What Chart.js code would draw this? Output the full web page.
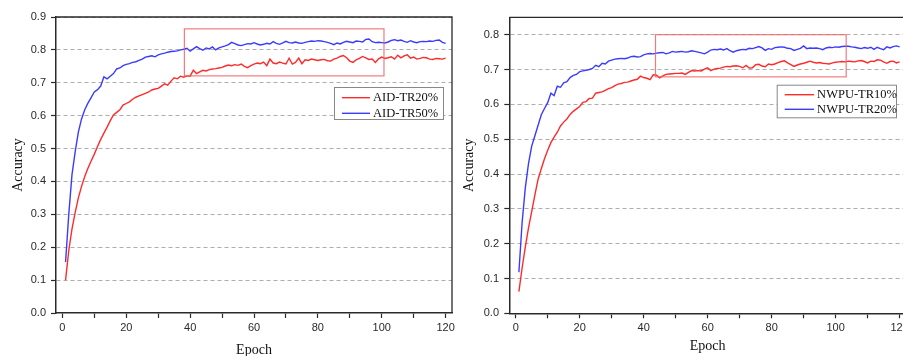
<!DOCTYPE html>
<html>
<head>
<meta charset="utf-8">
<script src="https://cdn.jsdelivr.net/npm/chart.js@4"></script>
<style>
  html, body { margin: 0; padding: 0; background: #fff; }
  body { width: 903px; height: 356px; overflow: hidden; position: relative; }
  canvas { position: absolute; top: 0; }
  #aid { left: 0; }
  #nwpu { left: 455px; }
</style>
</head>
<body>
<canvas id="aid" width="460" height="362"></canvas>
<canvas id="nwpu" width="460" height="356"></canvas>
<script>
// epochs 1..120
const epochs = Array.from({ length: 120 }, (_, i) => i + 1);
const xTicks = [0, 10, 20, 30, 40, 50, 60, 70, 80, 90, 100, 110, 120];
const aidYTicks = [0, 0.1, 0.2, 0.3, 0.4, 0.5, 0.6, 0.7, 0.8, 0.9];
const nwpuYTicks = [0, 0.1, 0.2, 0.3, 0.4, 0.5, 0.6, 0.7, 0.8];

const aidTR20 = [
  0.100, 0.190, 0.255, 0.305, 0.350, 0.385, 0.415, 0.440, 0.462, 0.483,
  0.506, 0.528, 0.547, 0.565, 0.585, 0.602, 0.610, 0.618, 0.632, 0.637,
  0.642, 0.650, 0.656, 0.660, 0.664, 0.668, 0.672, 0.678, 0.681, 0.683,
  0.690, 0.697, 0.693, 0.705, 0.715, 0.712, 0.720, 0.717, 0.721, 0.720,
  0.738, 0.728, 0.733, 0.738, 0.736, 0.740, 0.742, 0.743, 0.745, 0.747,
  0.751, 0.754, 0.752, 0.755, 0.753, 0.757, 0.750, 0.746, 0.752, 0.757,
  0.760, 0.758, 0.763, 0.752, 0.772, 0.760, 0.758, 0.763, 0.760, 0.757,
  0.775, 0.757, 0.762, 0.775, 0.758, 0.770, 0.768, 0.772, 0.770, 0.768,
  0.770, 0.771, 0.767, 0.766, 0.772, 0.775, 0.780, 0.783, 0.776, 0.766,
  0.762, 0.770, 0.774, 0.780, 0.776, 0.771, 0.772, 0.762, 0.773, 0.778,
  0.774, 0.776, 0.779, 0.772, 0.784, 0.776, 0.782, 0.785, 0.775, 0.778,
  0.772, 0.774, 0.777, 0.776, 0.772, 0.771, 0.774, 0.773, 0.772, 0.775
];
const aidTR50 = [
  0.155, 0.300, 0.420, 0.490, 0.550, 0.590, 0.618, 0.638, 0.655, 0.672,
  0.679, 0.690, 0.718, 0.712, 0.720, 0.728, 0.742, 0.745, 0.752, 0.756,
  0.758, 0.762, 0.764, 0.768, 0.772, 0.778, 0.780, 0.782, 0.779, 0.785,
  0.788, 0.790, 0.793, 0.795, 0.796, 0.797, 0.800, 0.802, 0.805, 0.796,
  0.803, 0.810, 0.804, 0.799, 0.806, 0.803, 0.809, 0.800, 0.806, 0.809,
  0.812, 0.816, 0.823, 0.819, 0.815, 0.813, 0.816, 0.819, 0.818, 0.822,
  0.818, 0.815, 0.817, 0.820, 0.818, 0.825, 0.820, 0.817, 0.821, 0.826,
  0.822, 0.821, 0.824, 0.821, 0.820, 0.823, 0.825, 0.827, 0.826, 0.828,
  0.827, 0.825, 0.823, 0.820, 0.816, 0.821, 0.818, 0.823, 0.826, 0.824,
  0.822, 0.827, 0.826, 0.824, 0.832, 0.833, 0.825, 0.822, 0.823, 0.822,
  0.821, 0.824, 0.829, 0.831, 0.828, 0.830, 0.826, 0.823, 0.828, 0.824,
  0.822, 0.825, 0.826, 0.825, 0.827, 0.826, 0.829, 0.830, 0.823, 0.820
];
const nwpuTR10 = [
  0.062, 0.130, 0.190, 0.245, 0.292, 0.340, 0.385, 0.415, 0.444, 0.468,
  0.490, 0.506, 0.520, 0.538, 0.549, 0.558, 0.571, 0.580, 0.587, 0.594,
  0.606, 0.608, 0.617, 0.618, 0.632, 0.634, 0.636, 0.640, 0.645, 0.648,
  0.654, 0.658, 0.660, 0.663, 0.664, 0.667, 0.670, 0.672, 0.681, 0.677,
  0.675, 0.671, 0.685, 0.684, 0.676, 0.682, 0.686, 0.687, 0.688, 0.689,
  0.689, 0.690, 0.686, 0.692, 0.697, 0.696, 0.697, 0.696, 0.701, 0.705,
  0.697, 0.701, 0.703, 0.704, 0.707, 0.709, 0.708, 0.710, 0.711, 0.709,
  0.705, 0.712, 0.704, 0.705, 0.714, 0.715, 0.710, 0.708, 0.716, 0.714,
  0.716, 0.720, 0.723, 0.725, 0.719, 0.714, 0.709, 0.713, 0.716, 0.718,
  0.721, 0.724, 0.721, 0.719, 0.720, 0.718, 0.717, 0.716, 0.719, 0.721,
  0.722, 0.723, 0.722, 0.724, 0.723, 0.722, 0.725, 0.726, 0.723, 0.719,
  0.724, 0.723, 0.728, 0.727, 0.722, 0.718, 0.723, 0.724, 0.719, 0.722
];
const nwpuTR20 = [
  0.118, 0.260, 0.360, 0.430, 0.480, 0.510, 0.540, 0.570, 0.588, 0.605,
  0.632, 0.625, 0.652, 0.649, 0.662, 0.665, 0.677, 0.683, 0.686, 0.694,
  0.696, 0.698, 0.700, 0.703, 0.712, 0.708, 0.718, 0.716, 0.724, 0.727,
  0.730, 0.731, 0.732, 0.731, 0.733, 0.737, 0.738, 0.736, 0.737, 0.742,
  0.745, 0.746, 0.745, 0.747, 0.748, 0.749, 0.745, 0.748, 0.752, 0.750,
  0.751, 0.752, 0.750, 0.751, 0.754, 0.752, 0.750, 0.748, 0.745, 0.750,
  0.756, 0.758, 0.757, 0.759, 0.756, 0.760, 0.754, 0.750, 0.754, 0.756,
  0.758, 0.757, 0.761, 0.760, 0.763, 0.766, 0.762, 0.755, 0.760, 0.758,
  0.763, 0.764, 0.765, 0.764, 0.761, 0.760, 0.755, 0.758, 0.761, 0.768,
  0.760, 0.762, 0.761, 0.762, 0.760, 0.757, 0.762, 0.764, 0.763, 0.765,
  0.764, 0.766, 0.767, 0.767, 0.765, 0.764, 0.762, 0.760, 0.763, 0.761,
  0.764, 0.758, 0.764, 0.760, 0.757, 0.765, 0.762, 0.766, 0.768, 0.765
];

const RED = '#ff2b2b';
const BLUE = '#3b3bff';
const INK = '#2a2a2a';
const SANS = "'Liberation Sans', Arial, sans-serif";
const SERIF = "'Liberation Serif', 'Times New Roman', serif";

// frame, zoom rectangle and the inset legend
const overlay = {
  id: 'overlay',
  afterDatasetsDraw(chart, args, opts) {
    const { ctx, chartArea: a, scales: { x, y } } = chart;
    ctx.save();
    ctx.strokeStyle = INK;
    ctx.lineWidth = 1.3;
    ctx.beginPath();
    ctx.moveTo(a.left, a.top);
    ctx.lineTo(a.right, a.top);
    ctx.lineTo(a.right, a.bottom);
    ctx.stroke();

    const b = opts.box;
    const x0 = x.getPixelForValue(b.x0), x1 = x.getPixelForValue(b.x1);
    const y0 = y.getPixelForValue(b.y1), y1 = y.getPixelForValue(b.y0);
    ctx.strokeStyle = 'rgba(238,100,100,0.85)';
    ctx.lineWidth = 1.2;
    ctx.strokeRect(x0, y0, x1 - x0, y1 - y0);

    const L = opts.legend;
    ctx.fillStyle = '#fff';
    ctx.fillRect(L.left, L.top, L.width, L.height);
    ctx.strokeStyle = '#888';
    ctx.lineWidth = 1;
    ctx.strokeRect(L.left + 0.5, L.top + 0.5, L.width, L.height);
    ctx.font = '12.5px ' + SERIF;
    ctx.textBaseline = 'middle';
    chart.data.datasets.forEach((ds, i) => {
      const ry = L.top + L.rowStart + i * L.rowGap;
      ctx.strokeStyle = ds.borderColor;
      ctx.lineWidth = 1.4;
      ctx.beginPath();
      ctx.moveTo(L.left + 8, ry);
      ctx.lineTo(L.left + 8 + L.lineLen, ry);
      ctx.stroke();
      ctx.fillStyle = '#111';
      ctx.fillText(ds.label, L.left + 11 + L.lineLen, ry + 0.5);
    });
    ctx.restore();
  }
};

function makeChart(id, cfg) {
  const el = document.getElementById(id);
  return new Chart(el, {
    type: 'line',
    data: {
      datasets: cfg.series.map(s => ({
        label: s.label,
        data: s.values.map((v, i) => ({ x: epochs[i], y: v })),
        borderColor: s.color,
        borderWidth: 1.4,
        pointRadius: 0,
        tension: 0,
        fill: false
      }))
    },
    options: {
      responsive: false,
      animation: false,
      devicePixelRatio: 1,
      layout: { padding: cfg.padding },
      plugins: {
        legend: { display: false },
        tooltip: { enabled: false },
        overlay: { box: cfg.box, legend: cfg.legend }
      },
      scales: {
        x: {
          type: 'linear',
          min: -2,
          max: 122,
          afterBuildTicks: s => { s.ticks = xTicks.map(v => ({ value: v })); },
          afterFit: s => { s.height = cfg.xHeight; },
          ticks: {
            autoSkip: false,
            maxRotation: 0,
            padding: 3,
            color: INK,
            font: { family: SANS, size: 11 },
            callback: v => (v % 20 === 0 ? String(v) : '')
          },
          grid: { drawOnChartArea: false, drawTicks: true, tickLength: 5, tickColor: INK, tickWidth: 1.2 },
          border: { color: INK, width: 1.5 },
          title: {
            display: true,
            text: 'Epoch',
            color: '#111',
            font: { family: SERIF, size: 14 },
            padding: { top: 0, bottom: cfg.xTitlePad }
          }
        },
        y: {
          min: 0,
          max: cfg.yMax,
          afterBuildTicks: s => { s.ticks = cfg.yTicks.map(v => ({ value: v })); },
          afterFit: s => { s.width = cfg.yWidth; },
          ticks: {
            padding: cfg.yLabelPad,
            color: INK,
            font: { family: SANS, size: 11 },
            callback: v => v.toFixed(1)
          },
          grid: {
            color: c => (c.tick && c.tick.value === 0 ? 'rgba(0,0,0,0)' : '#adadad'),
            lineWidth: 1,
            tickLength: 5,
            tickColor: INK,
            tickWidth: 1.2,
            tickBorderDash: []
          },
          border: { color: INK, width: 1.5, dash: [4, 3] },
          title: {
            display: true,
            text: 'Accuracy',
            color: '#111',
            font: { family: SERIF, size: 14 },
            padding: { top: cfg.yTitlePad, bottom: 0 }
          }
        }
      }
    },
    plugins: [overlay]
  });
}

makeChart('aid', {
  series: [
    { label: 'AID-TR20%', values: aidTR20, color: RED },
    { label: 'AID-TR50%', values: aidTR50, color: BLUE }
  ],
  yMax: 0.9,
  yTicks: aidYTicks,
  padding: { top: 17, right: 8, left: 0, bottom: 0 },
  xHeight: 49,
  yWidth: 56,
  xTitlePad: 3.3,
  yTitlePad: 9.6,
  yLabelPad: 5,
  box: { x0: 38.2, x1: 100.7, y0: 0.721, y1: 0.864 },
  legend: { left: 334, top: 87, width: 109, height: 32, rowStart: 10.7, rowGap: 15.6, lineLen: 28 }
});

makeChart('nwpu', {
  series: [
    { label: 'NWPU-TR10%', values: nwpuTR10, color: RED },
    { label: 'NWPU-TR20%', values: nwpuTR20, color: BLUE }
  ],
  yMax: 0.85,
  yTicks: nwpuYTicks,
  padding: { top: 17.3, right: 9, left: 0, bottom: 0 },
  xHeight: 42.7,
  yWidth: 54.3,
  xTitlePad: 1.3,
  yTitlePad: 5.6,
  yLabelPad: 5.3,
  box: { x0: 43.7, x1: 103.3, y0: 0.679, y1: 0.80 },
  legend: { left: 321.7, top: 84.7, width: 119.3, height: 32.6, rowStart: 10, rowGap: 14.6, lineLen: 29.4 }
});
</script>
</body>
</html>
